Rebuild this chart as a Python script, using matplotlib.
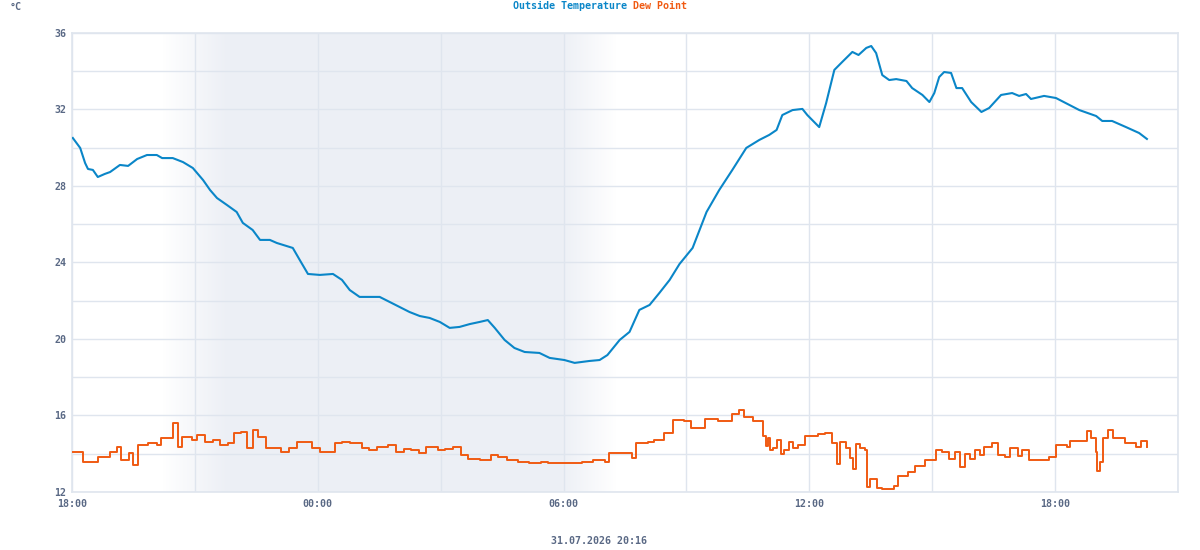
import numpy as np
import matplotlib
matplotlib.use("Agg")
import matplotlib.pyplot as plt


# time axis: hours since 30.07.2026 18:00
x_start, x_end = 0, 27
tick_hours  = [0, 6, 12, 18, 24]
tick_labels = ["18:00", "00:00", "06:00", "12:00", "18:00"]
y_ticks     = [12, 16, 20, 24, 28, 32, 36]
stamp       = "31.07.2026 20:16"

# night shading (hours since start): fade in, full, full, fade out
night = [2.2, 3.8, 11.9, 13.3]

# Outside Temperature [°C]
t_temp = [0.02, 0.20, 0.32, 0.39, 0.51, 0.63, 0.80, 0.93, 1.17, 1.37, 1.59, 1.83,
          2.07, 2.20, 2.46, 2.71, 2.95, 3.20, 3.37, 3.54, 3.78, 4.02, 4.17, 4.41,
          4.59, 4.83, 5.00, 5.39, 5.56, 5.76, 6.05, 6.37, 6.59, 6.78, 7.02, 7.51,
          7.76, 8.00, 8.24, 8.49, 8.73, 8.98, 9.22, 9.46, 9.71, 9.95, 10.15, 10.32,
          10.56, 10.80, 11.05, 11.41, 11.66, 12.02, 12.27, 12.63, 12.88, 13.07, 13.37,
          13.61, 13.85, 14.10, 14.34, 14.59, 14.83, 15.15, 15.49, 15.80, 16.12, 16.46,
          16.78, 17.02, 17.20, 17.34, 17.59, 17.83, 17.95, 18.24, 18.41, 18.61, 18.80,
          19.05, 19.20, 19.39, 19.51, 19.63, 19.78, 19.95, 20.12, 20.37, 20.51, 20.76,
          20.93, 21.05, 21.17, 21.29, 21.46, 21.59, 21.73, 21.95, 22.20, 22.39, 22.68,
          22.95, 23.12, 23.29, 23.41, 23.73, 24.02, 24.59, 25.00, 25.15, 25.39, 25.73,
          26.05, 26.24]
temp = [30.51, 29.99, 29.20, 28.89, 28.84, 28.47, 28.63, 28.73, 29.10, 29.05, 29.41, 29.62,
        29.62, 29.46, 29.46, 29.25, 28.94, 28.31, 27.79, 27.37, 27.01, 26.64, 26.07, 25.70,
        25.18, 25.18, 25.02, 24.76, 24.13, 23.40, 23.35, 23.40, 23.09, 22.56, 22.20, 22.20,
        21.93, 21.67, 21.41, 21.20, 21.10, 20.89, 20.58, 20.63, 20.78, 20.89, 20.99, 20.58,
        19.95, 19.53, 19.32, 19.27, 19.01, 18.90, 18.75, 18.85, 18.90, 19.16, 19.95,
        20.37, 21.52, 21.78, 22.41, 23.09, 23.92, 24.76, 26.64, 27.79, 28.84, 29.99,
        30.41, 30.67, 30.93, 31.71, 31.97, 32.03, 31.71, 31.08, 32.34, 34.07, 34.48,
        35.01, 34.85, 35.22, 35.32, 34.95, 33.80, 33.54, 33.59, 33.49, 33.12, 32.76,
        32.39, 32.86, 33.70, 33.96, 33.91, 33.12, 33.12, 32.39, 31.87, 32.08, 32.76,
        32.86, 32.71, 32.81, 32.55, 32.71, 32.60, 31.97, 31.66, 31.40, 31.40, 31.08,
        30.77, 30.46]

# Dew Point [°C]
t_dew = [0.02, 0.27, 0.63, 0.93, 1.10, 1.20, 1.39, 1.49, 1.61, 1.85, 2.07, 2.17,
         2.46, 2.59, 2.68, 2.93, 3.05, 3.24, 3.44, 3.61, 3.80, 3.95, 4.12, 4.27,
         4.41, 4.54, 4.73, 5.10, 5.29, 5.49, 5.66, 5.85, 6.05, 6.22, 6.41, 6.59,
         6.78, 7.07, 7.24, 7.44, 7.71, 7.90, 8.10, 8.27, 8.46, 8.63, 8.93, 9.10,
         9.29, 9.49, 9.66, 9.95, 10.22, 10.41, 10.63, 10.88, 11.15, 11.44, 11.63, 11.90,
         12.17, 12.46, 12.73, 13.02, 13.12, 13.49, 13.68, 13.76, 14.05, 14.20, 14.44, 14.68,
         14.95, 15.12, 15.46, 15.78, 16.12, 16.29, 16.41, 16.63, 16.88, 16.95, 17.00, 17.05,
         17.12, 17.20, 17.30, 17.39, 17.50, 17.60, 17.73, 17.90, 18.22, 18.39, 18.56, 18.68,
         18.75, 18.90, 19.00, 19.07, 19.15, 19.24, 19.37, 19.41, 19.49, 19.66, 19.78, 20.07,
         20.17, 20.41, 20.59, 20.83, 21.10, 21.24, 21.41, 21.55, 21.68, 21.80, 21.93, 22.05,
         22.17, 22.27, 22.46, 22.61, 22.78, 22.90, 23.10, 23.20, 23.37, 23.61, 23.85, 24.02,
         24.29, 24.37, 24.61, 24.78, 24.88, 25.00, 25.02, 25.10, 25.17, 25.29, 25.41, 25.71,
         25.98, 26.10, 26.24]
dew = [14.09, 13.57, 13.83, 14.09, 14.35, 13.67, 14.04, 13.41, 14.46, 14.56, 14.46, 14.82,
       15.61, 14.35, 14.88, 14.72, 14.98, 14.61, 14.72, 14.46, 14.56, 15.08, 15.14, 14.30,
       15.24, 14.88, 14.30, 14.09, 14.30, 14.61, 14.61, 14.30, 14.09, 14.09, 14.56, 14.61,
       14.56, 14.30, 14.20, 14.35, 14.46, 14.09, 14.25, 14.20, 14.04, 14.35, 14.20, 14.25,
       14.35, 13.93, 13.73, 13.67, 13.93, 13.83, 13.67, 13.57, 13.52, 13.57, 13.52, 13.52,
       13.52, 13.57, 13.67, 13.57, 14.04, 14.04, 13.78, 14.56, 14.61, 14.72, 15.08, 15.76,
       15.71, 15.35, 15.82, 15.71, 16.08, 16.29, 15.92, 15.71, 14.93, 14.40, 14.80, 14.20,
       14.30, 14.70, 14.00, 14.20, 14.60, 14.30, 14.46, 14.93, 15.03, 15.08, 14.56, 13.46,
       14.60, 14.30, 13.80, 13.20, 14.50, 14.30, 14.20, 12.25, 12.68, 12.21, 12.15, 12.31,
       12.84, 13.05, 13.36, 13.67, 14.20, 14.09, 13.73, 14.10, 13.31, 14.00, 13.73, 14.20,
       13.93, 14.35, 14.56, 13.93, 13.83, 14.30, 13.88, 14.20, 13.67, 13.67, 13.83, 14.46,
       14.35, 14.67, 14.67, 15.19, 14.82, 14.09, 13.10, 13.57, 14.82, 15.24, 14.82, 14.56,
       14.35, 14.67, 14.35]

TEMP_COLOR = "#0a86c8"
DEW_COLOR  = "#f05a12"
GRID_COLOR = "#dfe5ee"
TEXT_COLOR = "#5a6985"
SHADE_RGB  = (0.929, 0.941, 0.961)

plt.rcParams["font.family"] = ["DejaVu Sans Mono", "DejaVu Sans"]
plt.rcParams["font.weight"] = "bold"

fig = plt.figure(figsize=(12, 5.5), dpi=100)
ax = fig.add_axes([0.06, 0.1055, 0.9217, 0.8345])

# night background with soft edges
xs = np.linspace(night[0], night[3], 600)
alpha = np.interp(xs, night, [0, 1, 1, 0])
img = np.zeros((1, xs.size, 4))
img[..., 0], img[..., 1], img[..., 2] = SHADE_RGB
img[0, :, 3] = alpha
ax.imshow(img, extent=[night[0], night[3], 12, 36], aspect="auto",
          interpolation="bilinear", zorder=0)

ax.plot(t_dew, dew, color=DEW_COLOR, lw=1.4, drawstyle="steps-post", zorder=3)
ax.plot(t_temp, temp, color=TEMP_COLOR, lw=1.5, zorder=4)

ax.set_xlim(x_start, x_end)
ax.set_ylim(12, 36)
ax.set_xticks(tick_hours)
ax.set_xticklabels(tick_labels)
ax.set_xticks(np.arange(0, 28, 3), minor=True)
ax.set_yticks(y_ticks)
ax.set_yticks(np.arange(12, 37, 2), minor=True)
ax.grid(which="both", color=GRID_COLOR, lw=1, zorder=1)
ax.set_axisbelow(True)
ax.tick_params(which="both", length=0, colors=TEXT_COLOR, labelsize=7.2)
ax.tick_params(axis="x", pad=5)
ax.tick_params(axis="y", pad=4)
for s in ax.spines.values():
    s.set_color(GRID_COLOR)
    s.set_linewidth(1.2)

fig.text(0.5225, 0.989, "Outside Temperature", color=TEMP_COLOR, ha="right",
         va="center", fontsize=7.2)
fig.text(0.5275, 0.989, "Dew Point", color=DEW_COLOR, ha="left",
         va="center", fontsize=7.2)
fig.text(0.008, 0.988, "°C", color=TEXT_COLOR, ha="left", va="center", fontsize=7.2)
fig.text(0.4995, 0.0164, stamp, color=TEXT_COLOR, ha="center", va="center", fontsize=7.2)

fig.savefig("out.png", dpi=100)
